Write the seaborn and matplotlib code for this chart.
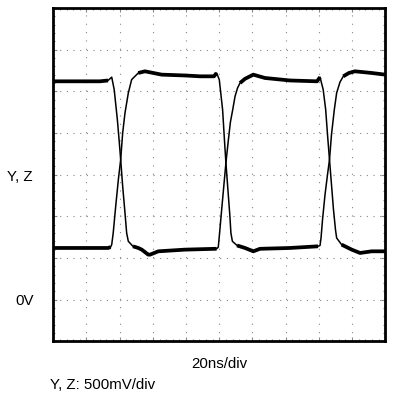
import numpy as np
import pandas as pd
import seaborn as sns
import matplotlib.pyplot as plt
from matplotlib.ticker import MultipleLocator

# waveform key points: time in ns, voltage in V
t_y = [0, 28.1, 33.0, 35.2, 36.7, 38.6, 39.8, 40.6, 41.8, 43.2,
       44.2, 45.2, 48.0, 51.2, 53.3, 57.2, 58.3, 63.3, 79.3, 97.4,
       98.4, 99.4, 100.1, 101.3, 102.8, 104.0, 105.5, 106.7, 108.1, 109.5,
       111.0, 112.5, 115.5, 118.5, 120.5, 127.5, 142.6, 158.9, 160.7, 162.6,
       164.1, 165.2, 166.4, 167.6, 168.8, 170.0, 170.7, 173.7, 179.8, 184.8,
       191.8, 200]
v_y = [2.62, 2.62, 2.63, 2.67, 2.52, 2.16, 1.88, 1.68, 1.36, 1.04,
       0.80, 0.70, 0.64, 0.62, 0.60, 0.54, 0.54, 0.58, 0.60, 0.61,
       0.61, 0.63, 0.78, 1.05, 1.38, 1.64, 1.92, 2.13, 2.28, 2.44,
       2.54, 2.60, 2.65, 2.68, 2.70, 2.66, 2.63, 2.62, 2.67, 2.52,
       2.28, 1.98, 1.68, 1.38, 1.08, 0.84, 0.74, 0.66, 0.60, 0.56,
       0.58, 0.58]

t_z = [0, 33.0, 34.5, 35.2, 36.1, 37.6, 39.2, 40.6, 41.8, 43.2,
       45.2, 47.2, 51.2, 55.2, 65.3, 79.3, 88.4, 96.8, 98.4, 100.0,
       102.0, 103.1, 104.0, 105.2, 106.4, 107.0, 107.9, 110.7, 115.5, 120.5,
       124.5, 142.6, 159.5, 160.7, 161.3, 162.2, 163.7, 165.2, 166.4, 167.6,
       169.3, 170.7, 172.7, 174.7, 178.1, 181.7, 191.8, 200]
v_z = [0.62, 0.62, 0.63, 0.66, 0.80, 1.12, 1.44, 1.68, 2.00, 2.24,
       2.48, 2.64, 2.72, 2.74, 2.70, 2.69, 2.68, 2.68, 2.72, 2.64,
       2.28, 1.92, 1.64, 1.32, 1.00, 0.80, 0.70, 0.65, 0.62, 0.58,
       0.61, 0.62, 0.64, 0.65, 0.74, 0.96, 1.26, 1.50, 1.68, 1.98,
       2.28, 2.48, 2.61, 2.68, 2.72, 2.74, 2.72, 2.70]

x_label = '20ns/div'
scale_label = 'Y, Z: 500mV/div'
trace_label = 'Y, Z'
zero_label = '0V'

data = pd.concat([
    pd.DataFrame({'t': t_y, 'v': v_y, 'trace': 'Y'}),
    pd.DataFrame({'t': t_z, 'v': v_z, 'trace': 'Z'}),
])

sns.set_style('white')
plt.rcParams['font.family'] = ['Liberation Sans', 'DejaVu Sans']
plt.rcParams['text.color'] = 'black'
plt.rcParams['axes.labelcolor'] = 'black'

fig = plt.figure(figsize=(4.08, 3.99), dpi=100)
ax = fig.add_axes([0.1306, 0.1446, 0.8137, 0.8354])

# thin trace over the whole waveform
sns.lineplot(data=data, x='t', y='v', units='trace', estimator=None,
             color='black', lw=1.1, ax=ax, legend=False)

# noisy flat parts look thicker on the scope
for tt, vv in [(t_y, v_y), (t_z, v_z)]:
    tt = np.array(tt)
    vv = np.array(vv)
    flat = np.abs(np.gradient(vv, tt)) < 0.05
    ax.plot(tt, np.where(flat, vv, np.nan), color='black', lw=2.7,
            solid_capstyle='butt')

ax.set_xlim(0, 200)
ax.set_ylim(-0.5, 3.5)
ax.xaxis.set_major_locator(MultipleLocator(20))
ax.yaxis.set_major_locator(MultipleLocator(0.5))
ax.xaxis.set_minor_locator(MultipleLocator(4))
ax.yaxis.set_minor_locator(MultipleLocator(0.1))
ax.set_xticklabels([])
ax.set_yticklabels([])
ax.tick_params(which='both', direction='in', top=True, right=True,
               bottom=True, left=True, color='#888888')
ax.tick_params(which='major', length=3, width=0.8)
ax.tick_params(which='minor', length=1.5, width=0.8)

ax.xaxis.grid(True, which='major', color='#888888', lw=0.8, linestyle=(0, (1, 6.5)))
ax.yaxis.grid(True, which='major', color='#888888', lw=0.8, linestyle=(0, (1, 5)))

for s in ax.spines.values():
    s.set_linewidth(2.0)
    s.set_color('black')

ax.set_xlabel(x_label, fontsize=10.8, labelpad=8, color='black')
ax.set_ylabel(None)

fig.text(7 / 408, 1 - 177 / 399, trace_label, fontsize=10.8, va='center', ha='left')
fig.text(15 / 408, 1 - 301 / 399, zero_label, fontsize=10.8, va='center', ha='left')
fig.text(50 / 408, 1 - 385 / 399, scale_label, fontsize=10.8, va='center', ha='left')

plt.savefig('out.png', dpi=100)
